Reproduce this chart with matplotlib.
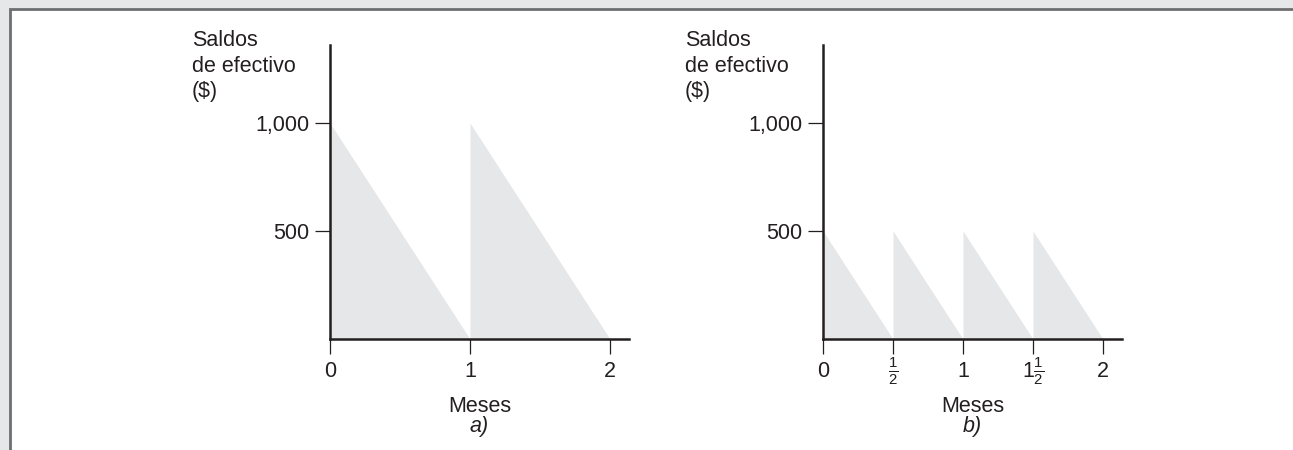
import matplotlib.pyplot as plt
import numpy as np
from matplotlib import patches, transforms

plt.rcParams["font.family"] = ["Liberation Sans", "DejaVu Sans"]
plt.rcParams["mathtext.fontset"] = "custom"
plt.rcParams["mathtext.rm"] = "Liberation Sans"
plt.rcParams["mathtext.it"] = "Liberation Sans:italic"

# panel a): one withdrawal cycle per month, starting at $1,000
starts_a = [0.0, 1.0]
peaks_a = [1000, 1000]
ticks_a = [0, 1, 2]
ticklabels_a = ["0", "1", "2"]

# panel b): one cycle every half month, starting at $500
starts_b = [0.0, 0.5, 1.0, 1.5]
peaks_b = [500, 500, 500, 500]
ticks_b = [0, 0.5, 1, 1.5, 2]
ticklabels_b = ["0", r"$\frac{1}{2}$", "1", r"$1\frac{1}{2}$", "2"]

yticks = [500, 1000]
yticklabels = ["500", "1,000"]

FILL = "#e6e7e8"
INK = "#231f20"
FS = 15.5

fig = plt.figure(figsize=(12.93, 4.5), dpi=100, facecolor=FILL)
fig.patches.append(patches.Rectangle(
    (9.5 / 1293, -0.05), 1.1, (450 - 9.5) / 450 + 0.05,
    transform=fig.transFigure, facecolor="white", edgecolor="#6d6e70",
    linewidth=2, zorder=-10))


def draw_panel(left_px, starts, peaks, ticks, ticklabels, tag):
    ax = fig.add_axes([left_px / 1293, 111 / 450, 299 / 1293, 294 / 450])
    ax.set_facecolor("none")
    period = starts[1] - starts[0]
    for s, p in zip(starts, peaks):
        ax.fill_between([s, s + period], [p, 0], 0, color=FILL, linewidth=0)
    ax.set_xlim(0, 2.136)
    ax.set_ylim(0, 1361)
    for side in ["top", "right"]:
        ax.spines[side].set_visible(False)
    for side in ["left", "bottom"]:
        ax.spines[side].set_linewidth(1.8)
        ax.spines[side].set_color(INK)
    ax.set_xticks(ticks)
    ax.set_xticklabels(ticklabels)
    ax.set_yticks(yticks)
    ax.set_yticklabels(yticklabels)
    ax.tick_params(axis="x", length=11, width=0.9, color=INK, pad=5,
                   labelsize=FS, labelcolor=INK)
    ax.tick_params(axis="y", length=11, width=0.9, color=INK, pad=4,
                   labelsize=FS, labelcolor=INK)
    # fraction labels sit a little higher in the original
    lift = transforms.ScaledTranslation(0, 4 / 72, fig.dpi_scale_trans)
    for lab in ax.get_xticklabels():
        if "frac" in lab.get_text():
            lab.set_transform(lab.get_transform() + lift)
    ax.text(0.5, -0.248, "Meses", transform=ax.transAxes, ha="center",
            va="baseline", fontsize=FS, color=INK)
    ax.text(0.5, -0.318, tag, transform=ax.transAxes, ha="center",
            va="baseline", fontsize=FS, color=INK, style="italic")
    ax.text(-0.4615, 1.05, "Saldos\nde efectivo\n($)", transform=ax.transAxes,
            ha="left", va="top", fontsize=FS, color=INK, linespacing=1.27)
    return ax


draw_panel(330, starts_a, peaks_a, ticks_a, ticklabels_a, "a)")
draw_panel(823, starts_b, peaks_b, ticks_b, ticklabels_b, "b)")

fig.savefig("out.png", dpi=100, facecolor=fig.get_facecolor())
